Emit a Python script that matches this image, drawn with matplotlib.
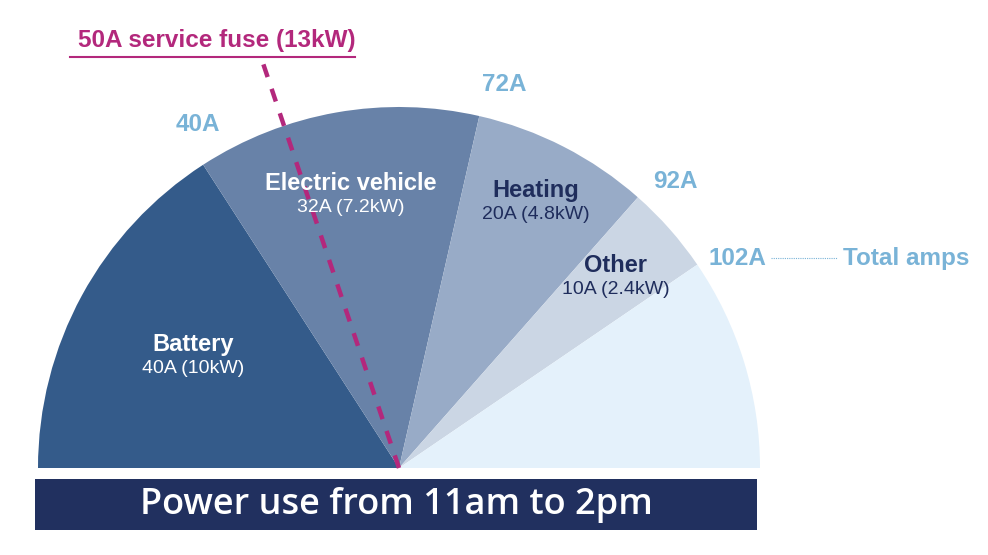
import numpy as np
import matplotlib.pyplot as plt
from matplotlib.patches import Wedge, Rectangle

# data (amps)
loads = ["Battery", "Electric vehicle", "Heating", "Other"]
amps = [40, 32, 20, 10]
kw_labels = ["40A (10kW)", "32A (7.2kW)", "20A (4.8kW)", "10A (2.4kW)"]
scale_max = 126          # amps that fill the half circle
fuse_amps = 50
fuse_label = "50A service fuse (13kW)"
total_label = "Total amps"
title = "Power use from 11am to 2pm"

# styling / layout
wedge_colors = ["#345b8a", "#6882a8", "#98abc7", "#cbd6e4", "#e4f1fb"]
name_colors = ["white", "white", "#1f2d5c", "#1f2d5c"]
label_rfrac = [0.65, 0.77, 0.83, 0.80]
magenta = "#b3287c"
light_blue = "#79b3d7"
navy = "#21305f"

W, H = 988, 555
cx, cy = 399, H - 468
R = 361

plt.rcParams['font.family'] = ['Liberation Sans', 'DejaVu Sans']
fig = plt.figure(figsize=(W / 100, H / 100), dpi=100)
ax = fig.add_axes([0, 0, 1, 1])
ax.set_xlim(0, W)
ax.set_ylim(0, H)
ax.axis('off')

k = 180.0 / scale_max
cum = np.concatenate([[0], np.cumsum(amps)])
edges = 180 - cum * k          # angles of wedge boundaries

# wedges incl. spare capacity
for i in range(len(amps)):
    ax.add_patch(Wedge((cx, cy), R, edges[i + 1], edges[i], facecolor=wedge_colors[i], lw=0))
ax.add_patch(Wedge((cx, cy), R, 0, edges[-1], facecolor=wedge_colors[-1], lw=0))

# labels inside wedges
for i, name in enumerate(loads):
    mid = np.radians((edges[i] + edges[i + 1]) / 2)
    r = R * label_rfrac[i]
    x, y = cx + r * np.cos(mid), cy + r * np.sin(mid)
    ax.text(x, y + 11, name, ha='center', va='center', fontsize=17, fontweight='bold', color=name_colors[i])
    ax.text(x, y - 13, kw_labels[i], ha='center', va='center', fontsize=14, color=name_colors[i])

# cumulative amps around the edge
for i in range(1, len(cum)):
    a = np.radians(edges[i] - 2.5)
    x, y = cx + 398 * np.cos(a), cy + 398 * np.sin(a)
    ax.text(x, y, f"{cum[i]}A", ha='center', va='center', fontsize=17.5, fontweight='bold', color=light_blue)
    if i == len(cum) - 1:
        ax.plot([x + 34, x + 100], [y, y], color=light_blue, lw=0.8, ls=(0, (1, 1)))
        ax.text(x + 106, y, total_label, ha='left', va='center', fontsize=17.5, fontweight='bold', color=light_blue)

# fuse line
fa = np.radians(180 - fuse_amps * k)
top = H - 60
L = (top - cy) / np.sin(fa)
ax.plot([cx, cx + L * np.cos(fa)], [cy, top], color=magenta, lw=3.2, dashes=(3, 2.8), solid_capstyle='butt')
ax.text(217, H - 41, fuse_label, ha='center', va='center', fontsize=17.5, fontweight='bold', color=magenta)
ax.plot([70, 355], [H - 57, H - 57], color=magenta, lw=1.5)

# title bar
ax.add_patch(Rectangle((35, H - 530), 722, 51, facecolor=navy, lw=0))
ax.text(396, H - 505, title, ha='center', va='center', fontsize=26, fontweight='semibold',
        color='white', family=['Open Sans', 'DejaVu Sans'])

fig.savefig("out.png", dpi=100, facecolor='white')
